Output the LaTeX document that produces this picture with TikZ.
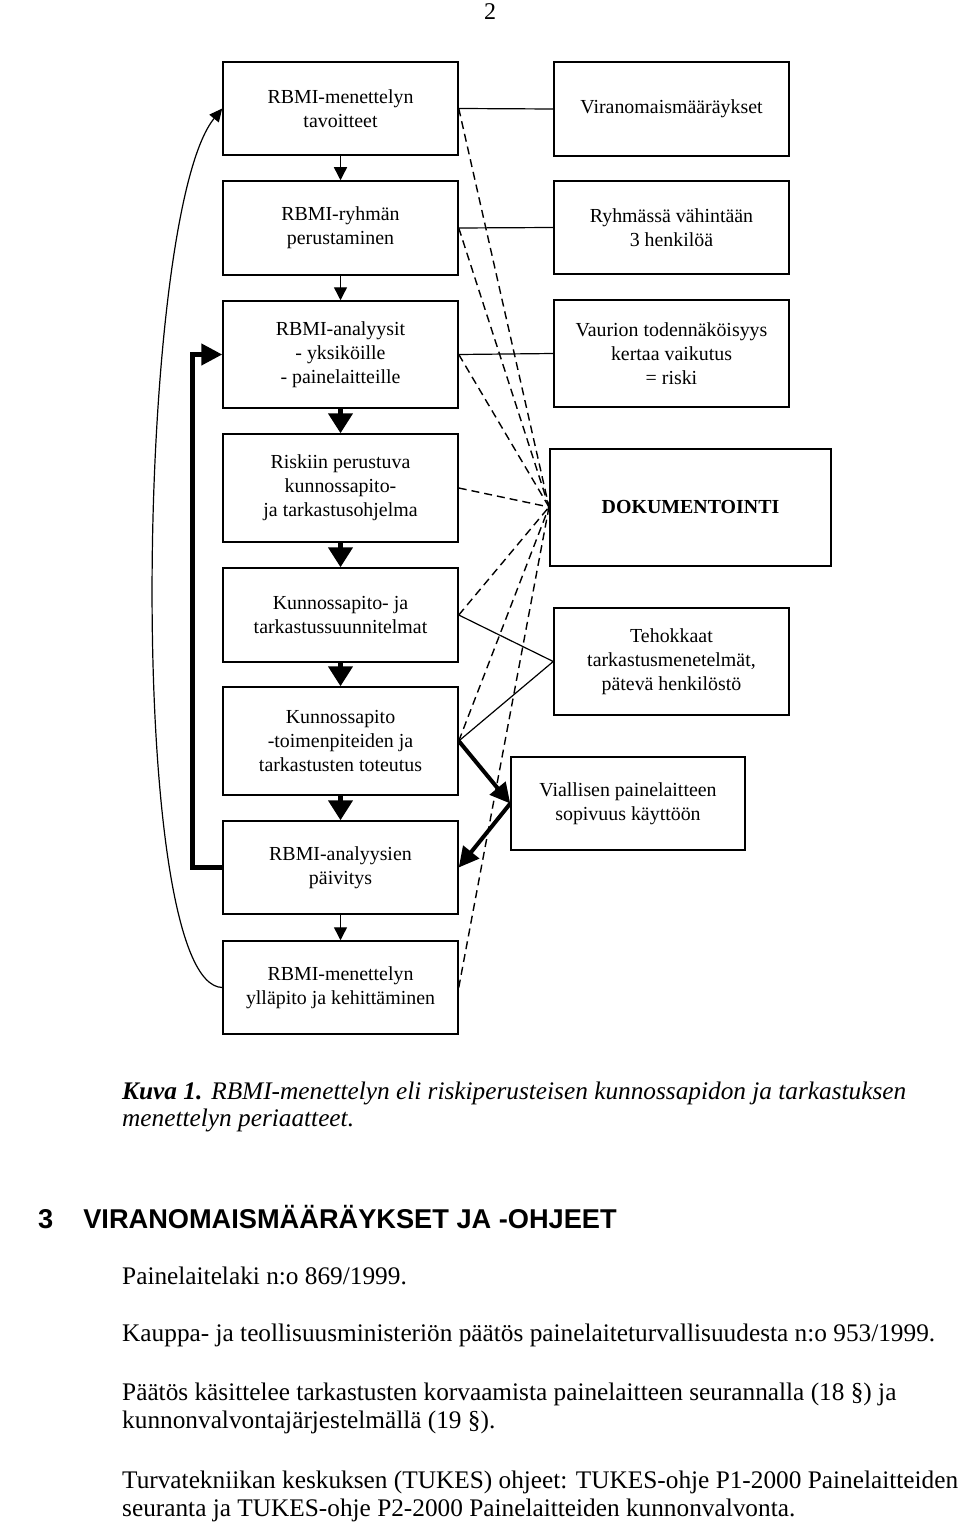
\documentclass[tikz,border=0pt]{standalone}
\usepackage{fontspec}
\setmainfont{Liberation Serif}
\newfontfamily\headfont{Liberation Sans}
\usetikzlibrary{arrows.meta}
\tikzset{
  box/.style={draw, line width=1.5pt, minimum width=235pt, align=center, inner sep=0pt,
    font=\fontsize{19.9}{24}\selectfont},
  rbox/.style={box},
  thinarrow/.style={line width=1.4pt, -{Triangle[length=13pt,width=13pt]}},
  thickarrow/.style={line width=4.5pt, -{Triangle[length=20pt,width=24pt]}},
  diagarrow/.style={line width=4pt, -{Triangle[length=20pt,width=20pt]}},
  link/.style={line width=1.2pt},
  dashlink/.style={line width=1.4pt, dash pattern=on 8pt off 5pt},
  bodytext/.style={anchor=base west, inner sep=0pt, font=\fontsize{25.3}{28}\selectfont},
}
\begin{document}
\begin{tikzpicture}[x=1pt,y=-1pt]
\useasboundingbox (0,0) rectangle (960,1525);
% page number
\node[inner sep=0pt, font=\fontsize{24}{28}\selectfont] (pnum) at (490,12) {2};
% left column
\node[box, minimum height=93pt] (L1) at (340.5,108.5) {RBMI-menettelyn\\tavoitteet};
\node[box, minimum height=94pt] (L2) at (340.5,228) {RBMI-ryhmän\\perustaminen};
\node[box, minimum height=107pt] (L3) at (340.5,354.5) {RBMI-analyysit\\- yksiköille\\- painelaitteille};
\node[box, minimum height=108pt] (L4) at (340.5,488) {Riskiin perustuva\\kunnossapito-\\ja tarkastusohjelma};
\node[box, minimum height=94pt] (L5) at (340.5,615) {Kunnossapito- ja\\tarkastussuunnitelmat};
\node[box, minimum height=108pt] (L6) at (340.5,741) {Kunnossapito\\-toimenpiteiden ja\\tarkastusten toteutus};
\node[box, minimum height=93pt] (L7) at (340.5,867.5) {RBMI-analyysien\\päivitys};
\node[box, minimum height=93pt] (L8) at (340.5,987.5) {RBMI-menettelyn\\ylläpito ja kehittäminen};
% right column
\node[rbox, minimum height=94pt] (R1) at (671.5,109) {Viranomaismääräykset};
\node[rbox, minimum height=93pt] (R2) at (671.5,227.5) {Ryhmässä vähintään\\3 henkilöä};
\node[rbox, minimum height=107pt] (R3) at (671.5,353.5) {Vaurion todennäköisyys\\kertaa vaikutus\\= riski};
\node[rbox, minimum width=281pt, minimum height=117pt, font=\fontsize{19.9}{24}\selectfont\bfseries] (DOK) at (690.5,507.5) {DOKUMENTOINTI};
\node[rbox, minimum height=107pt] (R5) at (671.5,661.5) {Tehokkaat\\tarkastusmenetelmät,\\pätevä henkilöstö};
\node[rbox, minimum width=234pt, minimum height=93pt] (R6) at (628,803.5) {Viallisen painelaitteen\\sopivuus käyttöön};
\coordinate (hub) at (549,507);
% vertical flow
\draw[thinarrow] (L1.south) -- (L2.north);
\draw[thinarrow] (L2.south) -- (L3.north);
\draw[thickarrow] (L3.south) -- (L4.north);
\draw[thickarrow] (L4.south) -- (L5.north);
\draw[thickarrow] (L5.south) -- (L6.north);
\draw[thickarrow] (L6.south) -- (L7.north);
\draw[thinarrow] (L7.south) -- (L8.north);
% solid links
\draw[link] (L1.east) -- (R1.west);
\draw[link] (L2.east) -- (R2.west);
\draw[link] (L3.east) -- (R3.west);
\draw[link] (L5.east) -- (R5.west) -- (L6.east);
% dashed links to DOKUMENTOINTI
\foreach \n in {L1,L2,L3,L4,L5,L6,L8} \draw[dashlink] (\n.east) -- (hub);
% thick diagonal arrows
\draw[diagarrow] (L6.east) -- (R6.west);
\draw[diagarrow] (R6.west) -- (L7.east);
% thick feedback
\draw[line width=4.5pt, -{Triangle[length=21pt,width=21pt]}] (L7.west) -- ++(-30,0) |- (L3.west);
% thin curve
\draw[line width=1.2pt, -{Triangle[length=13pt,width=12pt]}] (L8.west) .. controls (125,985) and (135,215) .. (L1.west);
% caption
\node[bodytext] (cap1) at (122,1099) {\textbf{\textit{Kuva 1.}}\hspace{9pt}\textit{RBMI-menettelyn eli riskiperusteisen kunnossapidon ja tarkastuksen}};
\node[bodytext] (cap2) at (122,1126) {\textit{menettelyn periaatteet.}};
% heading
\node[anchor=base west, inner sep=0pt, font=\fontsize{27.2}{30}\selectfont\headfont\bfseries] (head) at (38,1228) {3\hspace{30pt}VIRANOMAISMÄÄRÄYKSET JA -OHJEET};
% body
\node[bodytext] (p1) at (122,1284) {Painelaitelaki n:o 869/1999.};
\node[bodytext] (p2) at (122,1341) {Kauppa- ja teollisuusministeriön päätös painelaiteturvallisuudesta n:o 953/1999.};
\node[bodytext] (p3a) at (122,1400) {Päätös käsittelee tarkastusten korvaamista painelaitteen seurannalla (18 §) ja};
\node[bodytext] (p3b) at (122,1428) {kunnonvalvontajärjestelmällä (19 §).};
\node[bodytext] (p4a) at (122,1488) {Turvatekniikan keskuksen (TUKES) ohjeet: TUKES-ohje P1-2000 Painelaitteiden};
\node[bodytext] (p4b) at (122,1516) {seuranta ja TUKES-ohje P2-2000 Painelaitteiden kunnonvalvonta.};
\end{tikzpicture}
\end{document}
